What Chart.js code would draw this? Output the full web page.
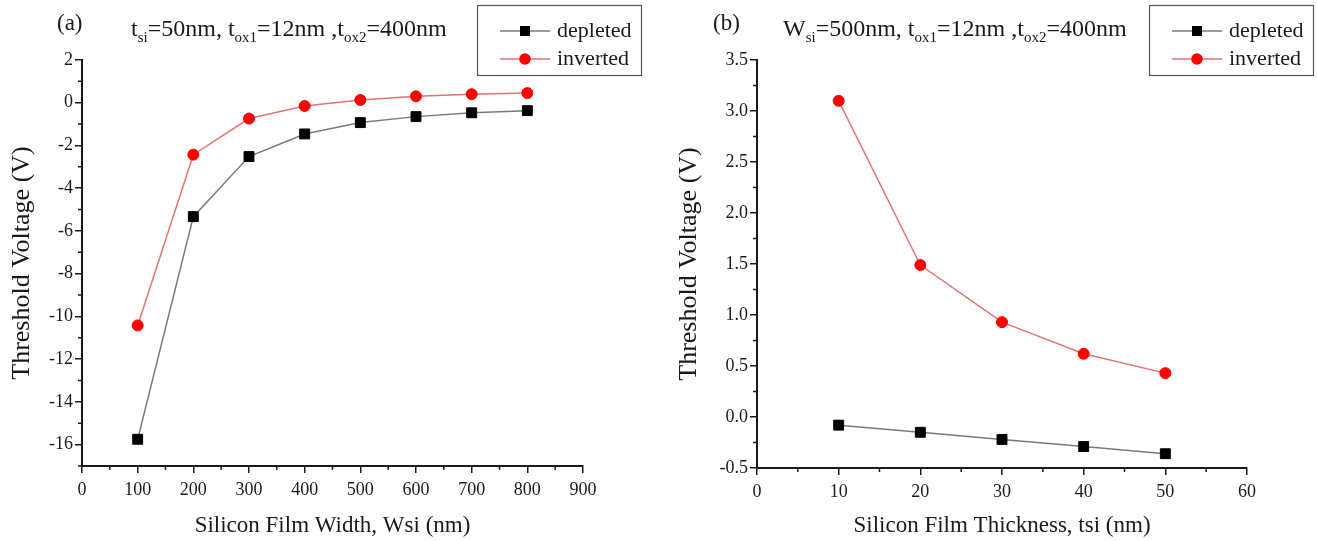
<!DOCTYPE html>
<html>
<head>
<meta charset="utf-8">
<script src="https://cdn.jsdelivr.net/npm/chart.js@4.4.1/dist/chart.umd.min.js"></script>
<style>
  body { margin: 0; background: #fff; }
  #wrap { position: relative; width: 1317px; height: 541px; }
  .panel { position: absolute; top: 0; }
</style>
</head>
<body>
<div id="wrap">
  <div class="panel" style="left:0"><canvas id="chartA" width="660" height="541"></canvas></div>
  <div class="panel" style="left:660px"><canvas id="chartB" width="657" height="541"></canvas></div>
</div>
<script>
// panel (a): threshold voltage vs silicon film width
var widthNm = [100, 200, 300, 400, 500, 600, 700, 800];
var depletedVsWidth = [-15.75, -5.33, -2.52, -1.46, -0.93, -0.65, -0.47, -0.37];
var invertedVsWidth = [-10.42, -2.43, -0.74, -0.15, 0.13, 0.3, 0.4, 0.45];

// panel (b): threshold voltage vs silicon film thickness
var thicknessNm = [10, 20, 30, 40, 50];
var depletedVsThick = [-0.08, -0.15, -0.22, -0.29, -0.36];
var invertedVsThick = [3.10, 1.49, 0.93, 0.62, 0.43];

var seriesNames = ['depleted', 'inverted'];

var SERIF = '"Liberation Serif", "Times New Roman", serif';
var INK = '#1a1a1a';

function toPoints(xs, ys) {
    return xs.map(function (x, i) { return { x: x, y: ys[i] }; });
}

function makeDatasets(xs, dep, inv) {
    return [{
        label: seriesNames[0],
        data: toPoints(xs, dep),
        showLine: true,
        borderColor: '#7a7a7a',
        borderWidth: 1.5,
        pointStyle: 'rect',
        pointRadius: 7,
        pointBackgroundColor: '#000',
        pointBorderColor: '#000',
        pointBorderWidth: 1
    }, {
        label: seriesNames[1],
        data: toPoints(xs, inv),
        showLine: true,
        borderColor: '#e57373',
        borderWidth: 1.5,
        pointStyle: 'circle',
        pointRadius: 5.5,
        pointBackgroundColor: '#f00',
        pointBorderColor: '#f00',
        pointBorderWidth: 1
    }];
}

// short minor ticks between the labelled ones (Origin style)
var minorTicks = {
    id: 'minorTicks',
    afterDraw: function (chart, args, opts) {
        var ctx = chart.ctx;
        var xs = chart.scales.x, ys = chart.scales.y;
        ctx.save();
        ctx.strokeStyle = INK;
        ctx.lineWidth = 1.5;
        ctx.beginPath();
        var n, i, v, p;
        n = Math.round((xs.max - xs.min) / opts.x);
        for (i = 1; i < n; i += 2) {
            v = xs.min + i * opts.x;
            p = xs.getPixelForValue(v);
            ctx.moveTo(p, ys.bottom);
            ctx.lineTo(p, ys.bottom + 4);
        }
        n = Math.round((ys.max - ys.min) / opts.y);
        for (i = 0; i <= n; i++) {
            v = ys.min + i * opts.y;
            if (Math.abs(Math.round(v / opts.yMajor) * opts.yMajor - v) < 1e-6) continue;
            p = ys.getPixelForValue(v);
            ctx.moveTo(xs.left, p);
            ctx.lineTo(xs.left - 4, p);
        }
        ctx.stroke();
        ctx.restore();
    }
};

// panel tag, title with subscripts, and boxed legend
var panelText = {
    id: 'panelText',
    afterDraw: function (chart, args, opts) {
        var ctx = chart.ctx;
        ctx.save();
        ctx.fillStyle = INK;
        ctx.textBaseline = 'alphabetic';
        ctx.textAlign = 'left';
        ctx.font = '23px ' + SERIF;
        ctx.fillText(opts.tag, opts.tagX, 30);

        var x = opts.titleX;
        opts.parts.forEach(function (part) {
            var sub = part[1];
            ctx.font = (sub ? '15px ' : '24px ') + SERIF;
            ctx.fillText(part[0], x, sub ? 42 : 36);
            x += ctx.measureText(part[0]).width;
        });

        // legend box
        var bx = opts.legendX, by = 5, bw = 164, bh = 70;
        ctx.strokeStyle = '#555';
        ctx.lineWidth = 1.2;
        ctx.strokeRect(bx + 0.5, by + 0.5, bw, bh);
        chart.data.datasets.forEach(function (ds, i) {
            var ly = by + 26 + i * 28;
            ctx.strokeStyle = ds.borderColor;
            ctx.lineWidth = ds.borderWidth;
            ctx.beginPath();
            ctx.moveTo(bx + 23, ly);
            ctx.lineTo(bx + 73, ly);
            ctx.stroke();
            ctx.fillStyle = ds.pointBackgroundColor;
            ctx.strokeStyle = ds.pointBorderColor;
            Chart.helpers.drawPoint(ctx, {
                pointStyle: ds.pointStyle,
                radius: ds.pointStyle === 'rect' ? 6 : 5,
                borderWidth: 1
            }, bx + 48, ly);
            ctx.fillStyle = INK;
            ctx.font = '22px ' + SERIF;
            ctx.textBaseline = 'middle';
            ctx.fillText(ds.label, bx + 80, ly);
        });
        ctx.restore();
    }
};

function axisOpts(extra) {
    var base = {
        type: 'linear',
        border: { display: true, color: INK, width: 2 },
        grid: { drawOnChartArea: false, drawTicks: true, tickLength: 7, color: INK, lineWidth: 1.5 },
        ticks: { color: INK, font: { family: SERIF, size: 18 }, padding: extra.tickPad, includeBounds: false, maxRotation: 0, autoSkip: false },
        title: { display: true, color: INK, font: { family: SERIF, size: extra.titleSize } }
    };
    base.min = extra.min; base.max = extra.max;
    base.ticks.stepSize = extra.step;
    if (extra.format) base.ticks.callback = extra.format;
    base.title.text = extra.title;
    base.title.padding = extra.titlePad;
    base.afterFit = extra.fit;
    return base;
}

function buildChart(id, cfg) {
    return new Chart(document.getElementById(id), {
        type: 'scatter',
        data: { datasets: makeDatasets(cfg.xs, cfg.dep, cfg.inv) },
        options: {
            responsive: false,
            animation: false,
            layout: { padding: { left: 0, top: 60, right: cfg.padRight, bottom: 0 } },
            plugins: {
                legend: { display: false },
                tooltip: { enabled: false },
                minorTicks: cfg.minor,
                panelText: cfg.text
            },
            scales: {
                x: axisOpts({
                    min: cfg.xMin, max: cfg.xMax, step: cfg.xStep, tickPad: 6,
                    title: cfg.xTitle, titleSize: 23, titlePad: { top: 0, bottom: 1 },
                    fit: function (s) { s.height = cfg.xHeight; }
                }),
                y: axisOpts({
                    min: cfg.yMin, max: cfg.yMax, step: cfg.yStep, format: cfg.yFormat, tickPad: 2,
                    title: 'Threshold Voltage (V)', titleSize: 26, titlePad: { top: cfg.yTitlePad, bottom: 0 },
                    fit: function (s) { s.width = cfg.yWidth; }
                })
            }
        },
        plugins: [minorTicks, panelText]
    });
}

buildChart('chartA', {
    xs: widthNm, dep: depletedVsWidth, inv: invertedVsWidth,
    xMin: 0, xMax: 900, xStep: 100,
    yMin: -17, yMax: 2, yStep: 2,
    xTitle: 'Silicon Film Width, Wsi (nm)',
    padRight: 77, xHeight: 75, yWidth: 82, yTitlePad: 7,
    minor: { x: 50, y: 1, yMajor: 2 },
    text: {
        tag: '(a)', tagX: 57, titleX: 131, legendX: 477,
        parts: [['t'], ['si', 1], ['=50nm, t'], ['ox1', 1], ['=12nm ,t'], ['ox2', 1], ['=400nm']]
    }
});

buildChart('chartB', {
    xs: thicknessNm, dep: depletedVsThick, inv: invertedVsThick,
    xMin: 0, xMax: 60, xStep: 10,
    yMin: -0.5, yMax: 3.5, yStep: 0.5,
    yFormat: function (v) { return v.toFixed(1); },
    xTitle: 'Silicon Film Thickness, tsi (nm)',
    padRight: 70, xHeight: 73, yWidth: 97, yTitlePad: 14,
    minor: { x: 5, y: 0.25, yMajor: 0.5 },
    text: {
        tag: '(b)', tagX: 53, titleX: 123, legendX: 489,
        parts: [['W'], ['si', 1], ['=500nm, t'], ['ox1', 1], ['=12nm ,t'], ['ox2', 1], ['=400nm']]
    }
});
</script>
</body>
</html>
